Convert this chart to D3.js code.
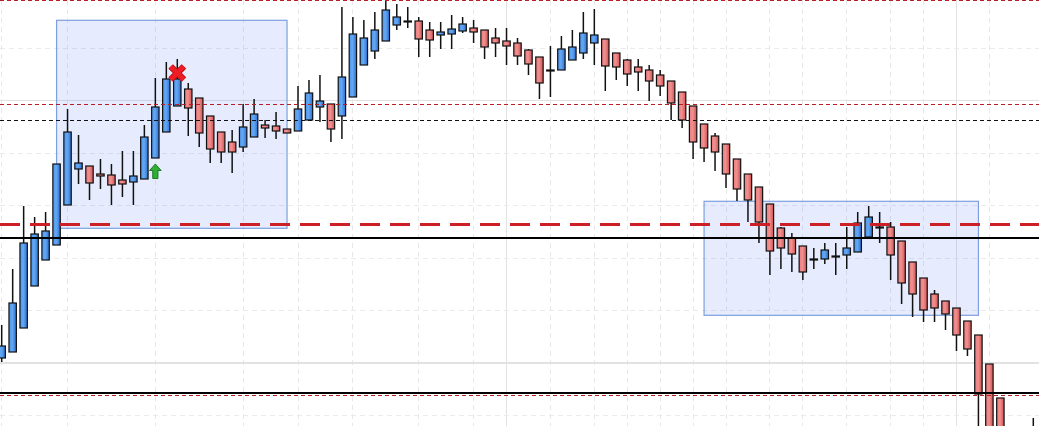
<!DOCTYPE html>
<html>
<head>
<meta charset="utf-8">
<script src="https://cdn.jsdelivr.net/npm/d3@7"></script>
<style>
html,body{margin:0;padding:0;background:#fff;overflow:hidden;}
svg{display:block;}
</style>
</head>
<body>
<div id="chart"></div>
<script>
// ---- data (prices) ----
const opens = [1.0868,1.0874,1.0898,1.0940,1.0966,1.0981,1.1021,1.1057,1.1060,1.1052,
1.1051,1.1046,1.1044,1.1047,1.1068,1.1094,1.1120,1.1137,1.1128,1.1110,
1.1094,1.1084,1.1079,1.1089,1.1101,1.1100,1.1097,1.1095,1.1106,1.1119,
1.1122,1.1110,1.1129,1.1161,1.1175,1.1185,1.1201,1.1205,1.1205,1.1196,
1.1191,1.1192,1.1195,1.1198,1.1196,1.1188,1.1185,1.1183,1.1176,1.1169,
1.1156,1.1156,1.1166,1.1173,1.1183,1.1187,1.1173,1.1166,1.1159,1.1156,
1.1151,1.1145,1.1134,1.1120,1.1102,1.1090,1.1082,1.1067,1.1052,1.1039,
1.1022,1.0998,1.0988,1.0980,1.0967,1.0967,1.0970,1.0971,1.0974,1.0989,
1.0999,1.0999,1.0985,1.0964,1.0948,1.0932,1.0925,1.0918,1.0905,1.0891,
1.0862,1.0828,1.0786,1.0756,1.0776];
const highs = [1.0901,1.0957,1.1020,1.1009,1.1014,1.1062,1.1117,1.1091,1.1060,1.1067,
1.1062,1.1075,1.1075,1.1101,1.1148,1.1164,1.1167,1.1143,1.1128,1.1110,
1.1094,1.1096,1.1122,1.1127,1.1106,1.1114,1.1097,1.1140,1.1146,1.1151,
1.1122,1.1219,1.1209,1.1206,1.1214,1.1229,1.1222,1.1219,1.1209,1.1204,
1.1204,1.1211,1.1209,1.1206,1.1196,1.1198,1.1198,1.1188,1.1177,1.1169,
1.1180,1.1190,1.1196,1.1214,1.1217,1.1187,1.1173,1.1167,1.1167,1.1161,
1.1156,1.1145,1.1134,1.1120,1.1102,1.1093,1.1082,1.1067,1.1052,1.1039,
1.1022,1.0999,1.0993,1.0980,1.0978,1.0983,1.0983,1.0999,1.1014,1.1020,
1.1014,1.1004,1.0985,1.0964,1.0948,1.0936,1.0925,1.0918,1.0905,1.0891,
1.0862,1.0828,1.0794,1.0791,1.0808];
const lows = [1.0864,1.0874,1.0898,1.0940,1.0966,1.0981,1.1021,1.1042,1.1026,1.1037,
1.1021,1.1029,1.1021,1.1047,1.1068,1.1094,1.1120,1.1090,1.1079,1.1063,
1.1063,1.1053,1.1074,1.1089,1.1088,1.1087,1.1093,1.1095,1.1106,1.1104,
1.1084,1.1087,1.1129,1.1161,1.1167,1.1185,1.1196,1.1198,1.1169,1.1169,
1.1177,1.1177,1.1193,1.1183,1.1167,1.1169,1.1161,1.1161,1.1151,1.1127,
1.1129,1.1156,1.1166,1.1167,1.1161,1.1135,1.1146,1.1140,1.1135,1.1125,
1.1130,1.1106,1.1098,1.1067,1.1064,1.1055,1.1038,1.1025,1.1004,1.0983,
1.0951,1.0957,1.0954,1.0946,1.0957,1.0962,1.0951,1.0957,1.0974,1.0989,
1.0983,1.0946,1.0922,1.0909,1.0904,1.0904,1.0896,1.0875,1.0870,1.0766,
1.0756,1.0746,1.0746,1.0746,1.0766];
const closes = [1.0880,1.0923,1.0983,1.0992,1.0995,1.1062,1.1094,1.1063,1.1043,1.1050,
1.1041,1.1042,1.1050,1.1089,1.1119,1.1147,1.1147,1.1118,1.1093,1.1077,
1.1074,1.1074,1.1099,1.1112,1.1098,1.1095,1.1093,1.1117,1.1133,1.1125,
1.1097,1.1149,1.1192,1.1188,1.1196,1.1216,1.1209,1.1205,1.1187,1.1186,
1.1194,1.1197,1.1202,1.1194,1.1179,1.1183,1.1180,1.1170,1.1162,1.1143,
1.1156,1.1177,1.1179,1.1193,1.1191,1.1160,1.1159,1.1152,1.1154,1.1145,
1.1140,1.1123,1.1106,1.1084,1.1078,1.1074,1.1052,1.1037,1.1026,1.1004,
1.0975,1.0978,1.0972,1.0954,1.0967,1.0976,1.0970,1.0978,1.1003,1.1009,
1.0999,1.0971,1.0943,1.0932,1.0916,1.0918,1.0912,1.0891,1.0877,1.0832,
1.0786,1.0776,1.0761,1.0776,1.0794];

// vertical grid (bar indices where a session starts); major ones are solid
const gridBars = [0,6,14,22,27,32,38,43,46,50,54,57,60,63,66,70,73,77,81,84,87,90];
const gridBarsMajor = [46,87];
// horizontal grid price levels
const gridPrices = [1.1178,1.11255,1.1073,1.10205,1.0968,1.09155,1.0863,1.08105];
const gridPricesMajor = [1.11255,1.0863];

// zones
const zoneStart = [5,64];
const zoneEnd = [26,89];
const zoneTop = [1.12057,1.10247];
const zoneBottom = [1.09977,1.09107];

// horizontal levels
const levelPrices = [1.1225,1.1122,1.1106,1.1002,1.0988,1.0833,1.0831];
const levelKinds  = ["redThin","redThin","blackDash","redThick","black","black","redThin"];

// signals
const buyBars = [14];   const buyPrices = [1.1062];
const sellBars = [16];  const sellPrices = [1.1153];

// ---- drawing ----
const W = 1039, H = 426;
const svg = d3.select("#chart").append("svg").attr("width", W).attr("height", H);
svg.append("rect").attr("width", W).attr("height", H).attr("fill", "#fff");

const x = d3.scaleLinear().domain([0, 94]).range([1.7, 1033.3]);
const y = d3.scaleLinear().domain([1.0800, 1.1226]).range([H, 0]);

const defs = svg.append("defs");
function grad(id, c1, c2, c3) {
  const g = defs.append("linearGradient").attr("id", id).attr("x1", "0%").attr("x2", "100%").attr("y1", "0%").attr("y2", "0%");
  g.append("stop").attr("offset", "0%").attr("stop-color", c1);
  g.append("stop").attr("offset", "45%").attr("stop-color", c2);
  g.append("stop").attr("offset", "100%").attr("stop-color", c3);
}
grad("gBlue", "#4f97ec", "#64a8f4", "#2d6fd2");
grad("gRed", "#ea7d7d", "#f09090", "#d45151");

// grid
const grid = svg.append("g").attr("shape-rendering", "crispEdges");
grid.selectAll("line.v").data(gridBars).join("line")
  .attr("x1", d => x(d)).attr("x2", d => x(d)).attr("y1", 0).attr("y2", H)
  .attr("stroke", d => gridBarsMajor.includes(d) ? "#e2e2e2" : "#e8e8e8")
  .attr("stroke-width", 1)
  .attr("stroke-dasharray", d => gridBarsMajor.includes(d) ? null : "5,4");
grid.selectAll("line.h").data(gridPrices).join("line")
  .attr("x1", 0).attr("x2", W).attr("y1", d => y(d)).attr("y2", d => y(d))
  .attr("stroke", d => gridPricesMajor.includes(d) ? "#e2e2e2" : "#ebebeb")
  .attr("stroke-width", d => gridPricesMajor.includes(d) ? 1.5 : 1)
  .attr("stroke-dasharray", d => gridPricesMajor.includes(d) ? null : "5,4");

// zones
svg.append("g").selectAll("rect").data(zoneStart.map((s, i) => i)).join("rect")
  .attr("x", i => x(zoneStart[i]))
  .attr("y", i => y(zoneTop[i]))
  .attr("width", i => x(zoneEnd[i]) - x(zoneStart[i]))
  .attr("height", i => y(zoneBottom[i]) - y(zoneTop[i]))
  .attr("fill", "rgba(80,120,240,0.143)")
  .attr("stroke", "#7d9fe0").attr("stroke-width", 1.2);

// candles
const idx = d3.range(opens.length);
const bodyW = 7.4;
const candles = svg.append("g");
candles.selectAll("line").data(idx).join("line")
  .attr("x1", i => x(i)).attr("x2", i => x(i))
  .attr("y1", i => y(highs[i])).attr("y2", i => y(lows[i]))
  .attr("stroke", "#111").attr("stroke-width", 1.5);
candles.selectAll("rect").data(idx).join("rect")
  .attr("x", i => x(i) - bodyW / 2)
  .attr("width", bodyW)
  .attr("y", i => y(Math.max(opens[i], closes[i])))
  .attr("height", i => Math.max(1, Math.abs(y(opens[i]) - y(closes[i]))))
  .attr("fill", i => closes[i] > opens[i] ? "url(#gBlue)" : (closes[i] < opens[i] ? "url(#gRed)" : "#111"))
  .attr("stroke", "#111").attr("stroke-width", 1.2);

// level lines
const styles = {
  redThin:   {stroke: "#b81e26", w: 1, dash: "4,3"},
  blackDash: {stroke: "#111", w: 1, dash: "4,3"},
  redThick:  {stroke: "#cc2026", w: 3, dash: "20,10"},
  black:     {stroke: "#000", w: 2, dash: null}
};
svg.append("g").attr("shape-rendering", "crispEdges")
  .selectAll("line").data(levelPrices.map((p, i) => i)).join("line")
  .attr("x1", 0).attr("x2", W)
  .attr("y1", i => y(levelPrices[i])).attr("y2", i => y(levelPrices[i]))
  .attr("stroke", i => styles[levelKinds[i]].stroke)
  .attr("stroke-width", i => styles[levelKinds[i]].w)
  .attr("stroke-dasharray", i => styles[levelKinds[i]].dash);

// buy arrows
svg.append("g").selectAll("path").data(buyBars.map((b, i) => i)).join("path")
  .attr("d", i => {
    const cx = x(buyBars[i]), t = y(buyPrices[i]);
    return `M${cx},${t} L${cx + 5.8},${t + 6.5} L${cx + 2.6},${t + 6.5} L${cx + 2.6},${t + 14.5} L${cx - 2.6},${t + 14.5} L${cx - 2.6},${t + 6.5} L${cx - 5.8},${t + 6.5} Z`;
  })
  .attr("fill", "#2fae35").attr("stroke", "#1c7a22").attr("stroke-width", 1);

// sell crosses
const sx = svg.append("g");
sellBars.forEach((b, i) => {
  const cx = x(b), cy = y(sellPrices[i]), r = 6.6;
  const d = `M${cx - r},${cy - r} L${cx + r},${cy + r} M${cx + r},${cy - r} L${cx - r},${cy + r}`;
  sx.append("path").attr("d", d).attr("stroke", "#b80d12").attr("stroke-width", 6.4).attr("fill", "none");
  sx.append("path").attr("d", d).attr("stroke", "#ee1c24").attr("stroke-width", 4.8).attr("fill", "none");
});
</script>
</body>
</html>
